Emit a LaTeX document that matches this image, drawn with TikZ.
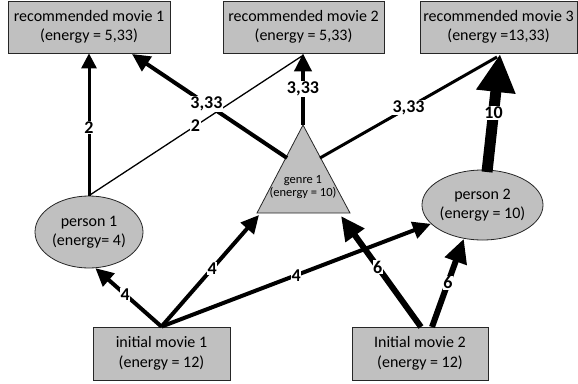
\documentclass[tikz,border=0pt]{standalone}
\usepackage{fontspec}
\setmainfont{Carlito}
\usetikzlibrary{arrows.meta,shapes.geometric}
\definecolor{boxgray}{HTML}{C0C0C0}
\begin{document}
\begin{tikzpicture}[x=1pt,y=-1pt,
  box/.style={draw=black!85, line width=0.8pt, fill=boxgray, align=center, inner sep=0pt,
    font=\fontsize{16}{19.5}\selectfont},
  pers/.style={ellipse, draw=black!85, line width=0.8pt, fill=boxgray, align=center, inner sep=0pt,
    font=\fontsize{16}{19.5}\selectfont},
  tri/.style={draw=black!85, line width=0.8pt, fill=boxgray},
  lab/.style={fill=white, inner sep=0.6pt, font=\bfseries\fontsize{18}{18}\selectfont},
  wA/.style={line width=4pt, -{Triangle[length=18pt,width=17pt]}},
  wB/.style={line width=3pt, -{Triangle[length=15pt,width=15pt]}},
  wC/.style={line width=6pt, -{Triangle[length=24pt,width=22pt]}},
  wD/.style={line width=11pt, -{Triangle[length=38pt,width=37pt]}},
  thinl/.style={line width=1.3pt},
  midl/.style={line width=3pt},
]
\useasboundingbox (0,0) rectangle (578,383);

% nodes
\node[box, minimum width=162pt, minimum height=52pt] (r1) at (89,27) {recommended movie 1\\(energy = 5,33)};
\node[box, minimum width=161pt, minimum height=52pt] (r2) at (303.5,27) {recommended movie 2\\(energy = 5,33)};
\node[box, minimum width=157pt, minimum height=52pt] (r3) at (498.5,27) {recommended movie 3\\(energy =13,33)};
\node[pers, minimum width=108pt, minimum height=72pt] (p1) at (89,232) {person 1\\(energy= 4)};
\node[pers, minimum width=109pt, minimum height=70pt] (p2) at (482.5,205) {person 2\\(energy = 10)};
\node[box, minimum width=137pt, minimum height=53pt] (im1) at (161.5,353.5) {initial movie 1\\(energy = 12)};
\node[box, minimum width=136pt, minimum height=53pt] (im2) at (420,353.5) {Initial movie 2\\(energy = 12)};

% genre triangle
\coordinate (gtop) at (303,125);
\coordinate (gbl) at (257,213);
\coordinate (gbr) at (350,213);
\draw[tri] (gtop) -- (gbl) -- (gbr) -- cycle;
\node[align=center, inner sep=0pt, font=\fontsize{12.5}{13.5}\selectfont] (g) at (303,187) {genre 1\\(energy = 10)};

% attachment points
\coordinate (gL) at (287,158);
\coordinate (gR) at (320,158);
\coordinate (gIn1) at (259,215);
\coordinate (gIn2) at (341,216);
\coordinate (r1in) at (132,54);
\coordinate (r3in) at (500,54);
\coordinate (r3thin) at (497,57);
\coordinate (r2thin) at (302,56);
\coordinate (im2a) at (421,327);
\coordinate (im2b) at (432,327);
\coordinate (p2top) at (487,172);

% thin / medium lines (under arrowheads)
\draw[thinl] (p1.north) -- node[lab, pos=0.5] {2} (r2thin);
\draw[midl] (gR) -- node[lab, pos=0.5] {3,33} (r3thin);

% arrows
\draw[wB] (p1.north) -- node[lab, pos=0.48] {2} (r1.south);
\draw[wA] (gL) -- node[lab, pos=0.52] {3,33} (r1in);
\draw[wA] (gtop) -- node[lab, pos=0.5] {3,33} (gtop |- r2.south);
\draw[wD] (p2top) -- node[lab, pos=0.5] {10} (r3in);
\draw[wA] (im1.north) -- node[lab, pos=0.55] {4} (p1.-80);
\draw[wA] (im1.north) -- node[lab, pos=0.52] {4} (gIn1);
\draw[wA] (im1.north) -- node[lab, pos=0.5] {4} (p2.200);
\draw[wC] (im2a) -- node[lab, pos=0.54] {6} (gIn2);
\draw[wC] (im2b) -- node[lab, pos=0.5] {6} (p2.-119);
\end{tikzpicture}
\end{document}
